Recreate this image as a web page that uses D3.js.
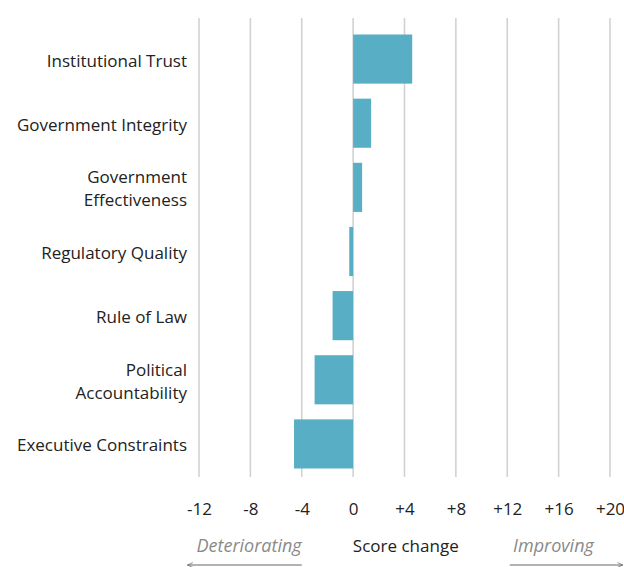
<!DOCTYPE html>
<html>
<head>
<meta charset="utf-8">
<script src="https://cdn.jsdelivr.net/npm/d3@7"></script>
<style>
  html, body { margin: 0; padding: 0; background: #fff; }
  svg { display: block; font-family: "Open Sans", "Noto Sans", sans-serif; }
</style>
</head>
<body>
<svg id="chart" width="624" height="567"></svg>
<script>
const categories = [
  ["Institutional Trust"],
  ["Government Integrity"],
  ["Government", "Effectiveness"],
  ["Regulatory Quality"],
  ["Rule of Law"],
  ["Political", "Accountability"],
  ["Executive Constraints"]
];
const values = [4.6, 1.4, 0.7, -0.3, -1.6, -3.0, -4.6];
const tickValues = [-12, -8, -4, 0, 4, 8, 12, 16, 20];
const tickLabels = ["-12", "-8", "-4", "0", "+4", "+8", "+12", "+16", "+20"];
const axisTitle = "Score change";
const leftNote = "Deteriorating";
const rightNote = "Improving";

const svg = d3.select("#chart");
const x = d3.scaleLinear().domain([-12, 20]).range([199, 610]);
const keys = categories.map(c => c.join(" "));
const y = d3.scaleBand().domain(keys).range([27, 476]).paddingInner(0.234).paddingOuter(0.117);

// gridlines
svg.append("g").selectAll("line").data(tickValues).join("line")
  .attr("x1", d => x(d)).attr("x2", d => x(d))
  .attr("y1", 18).attr("y2", 477)
  .attr("stroke", "#d2d2d2").attr("stroke-width", 1.6);

// bars
svg.append("g").selectAll("rect").data(values).join("rect")
  .attr("x", d => x(Math.min(0, d)))
  .attr("width", d => Math.abs(x(d) - x(0)))
  .attr("y", (d, i) => y(keys[i]))
  .attr("height", y.bandwidth())
  .attr("fill", "#58afc5");

// category labels
const lab = svg.append("g").selectAll("text").data(categories).join("text")
  .attr("text-anchor", "end")
  .attr("font-size", 17)
  .attr("fill", "#222");
lab.each(function(c, i) {
  const cy = y(keys[i]) + y.bandwidth() / 2;
  const lh = 23;
  const t = d3.select(this);
  c.forEach((line, j) => {
    t.append("tspan").attr("x", 187)
      .attr("y", cy + 1.5 + (j - (c.length - 1) / 2) * lh)
      .attr("dy", "0.35em")
      .text(line);
  });
});

// x axis tick labels
const axis = d3.axisBottom(x).tickValues(tickValues)
  .tickFormat((d, i) => tickLabels[i]).tickSize(0).tickPadding(0);
const ax = svg.append("g").attr("transform", "translate(0,503)").call(axis);
ax.select(".domain").remove();
ax.selectAll("text").attr("font-size", 17).attr("fill", "#222")
  .attr("font-family", "'Open Sans', 'Noto Sans', sans-serif");

// axis title
svg.append("text").attr("x", x(4.1)).attr("y", 552).attr("text-anchor", "middle")
  .attr("font-size", 17).attr("fill", "#222").text(axisTitle);

svg.append("text").attr("x", x(-8.1)).attr("y", 552).attr("text-anchor", "middle")
  .attr("font-size", 18).attr("font-style", "italic").attr("fill", "#8a8a8a").text(leftNote);
svg.append("text").attr("x", x(15.6)).attr("y", 552).attr("text-anchor", "middle")
  .attr("font-size", 18).attr("font-style", "italic").attr("fill", "#8a8a8a").text(rightNote);

// arrows
svg.append("defs").append("marker").attr("id", "ah")
  .attr("viewBox", "0 0 10 10").attr("refX", 9).attr("refY", 5)
  .attr("markerWidth", 6).attr("markerHeight", 6).attr("orient", "auto-start-reverse")
  .append("path").attr("d", "M0,1 L9,5 L0,9").attr("fill", "none").attr("stroke", "#666").attr("stroke-width", 1.2);

svg.append("line").attr("x1", x(-4)).attr("x2", x(-12.9)).attr("y1", 565).attr("y2", 565)
  .attr("stroke", "#666").attr("stroke-width", 1).attr("marker-end", "url(#ah)");
svg.append("line").attr("x1", x(12.2)).attr("x2", x(21)).attr("y1", 565).attr("y2", 565)
  .attr("stroke", "#666").attr("stroke-width", 1).attr("marker-end", "url(#ah)");
</script>
</body>
</html>
